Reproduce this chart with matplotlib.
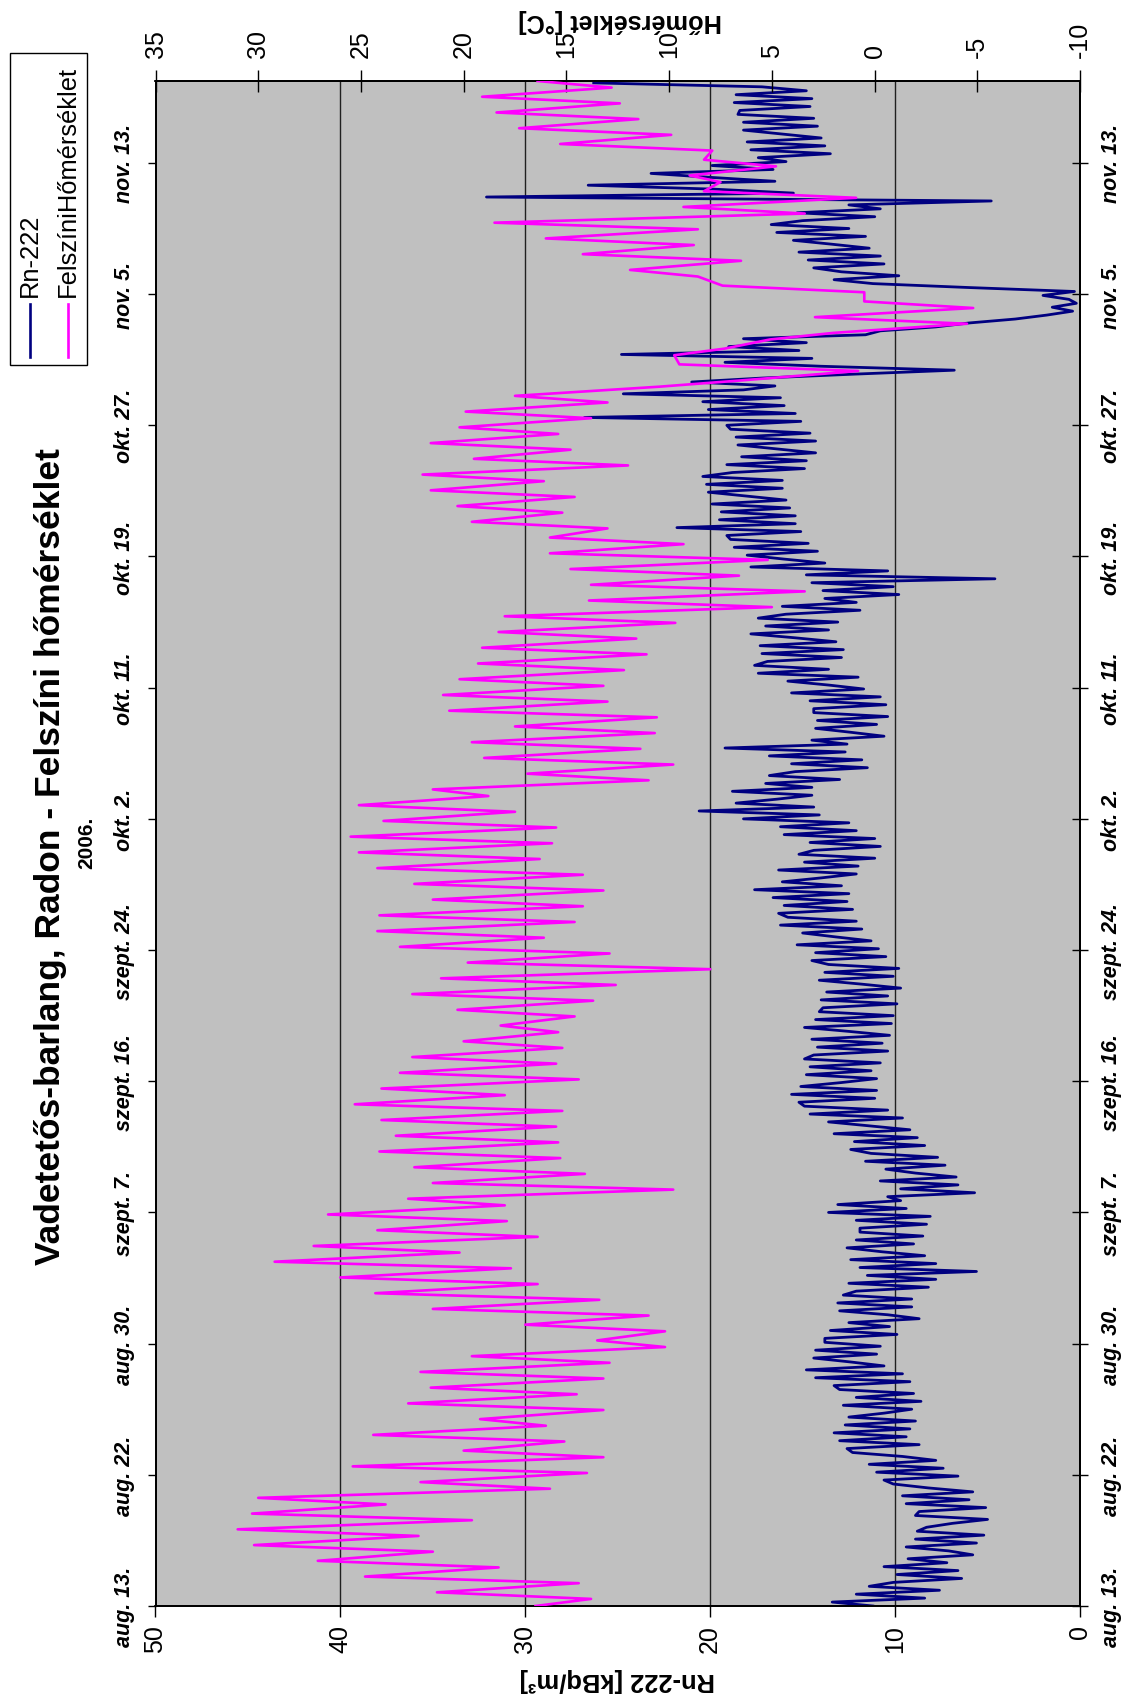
import matplotlib
matplotlib.use('Agg')
import matplotlib.pyplot as plt
from matplotlib.patches import Rectangle
from matplotlib.lines import Line2D
import numpy as np

plt.rcParams['font.family'] = ['Liberation Sans', 'DejaVu Sans']

W, H, DPI = 1127, 1699, 100

# ---------------- data ----------------
title = "Vadetetős-barlang, Radon - Felszíni hőmérséklet"
subtitle = "2006."
date_labels = ["aug. 13.", "aug. 22.", "aug. 30.", "szept. 7.", "szept. 16.",
               "szept. 24.", "okt. 2.", "okt. 11.", "okt. 19.", "okt. 27.",
               "nov. 5.", "nov. 13."]
date_step = 25.0 / 3.0          # days between date ticks
t_end = 96.87                   # days shown
rn_ticks = [0, 10, 20, 30, 40, 50]
temp_ticks = [35, 30, 25, 20, 15, 10, 5, 0, -5, -10]

# surface temperature: daily minimum (early morning) and maximum (afternoon), degC
temp_start = 16.5
temp_min = [13.8, 14.4, 18.3, 21.5, 22.2, 19.6, 23.8, 15.8, 14.0, 13.2,
            15.1, 16.0, 13.2, 14.5, 13.2, 12.9, 10.2, 10.2, 11.0, 13.4,
            16.4, 17.7, 20.2, 16.4, 17.9, 18.0, 9.8, 14.1, 15.3, 15.4,
            15.5, 15.2, 18.0, 14.4, 15.5, 15.2, 15.4, 14.6, 13.7, 12.6,
            8.0, 12.9, 16.1, 14.6, 14.2, 13.2, 14.2, 16.3, 15.7, 15.5,
            17.5, 18.8, 11.0, 9.8, 11.4, 10.7, 10.6, 13.0, 13.2, 12.2,
            11.1, 11.6, 9.7, 5.0, 3.4, 6.6, 5.2, 9.3, 13.0, 15.2,
            14.6, 16.1, 12.0, 14.8, 15.4, 13.8, 13.0, 10.5, 0.8, 9.75,
            5.1, -4.5, -4.8, 0.5, 8.6, 6.5, 8.8, 8.6, 3.4, 0.9,
            7.5, 4.8, 7.9, 9.9, 11.5, 12.4, 12.8]
temp_max = [21.3, 24.8, 27.1, 30.2, 31.0, 30.3, 30.0, 22.1, 25.4, 20.0,
            24.4, 19.2, 22.7, 21.6, 22.1, 19.6, 13.5, 17.0, 21.5, 24.3,
            26.0, 29.2, 27.3, 24.2, 26.6, 22.7, 21.5, 22.4, 24.1, 23.3,
            24.0, 25.3, 24.0, 23.1, 22.5, 20.0, 18.2, 20.3, 22.5, 21.1,
            19.8, 23.1, 24.2, 24.1, 21.5, 22.4, 24.2, 25.1, 25.5, 23.9,
            25.1, 21.5, 16.9, 19.0, 19.6, 17.5, 20.7, 21.0, 20.2, 19.3,
            19.1, 18.3, 18.0, 13.9, 13.8, 14.8, 15.8, 15.8, 19.6, 20.3,
            21.6, 22.0, 19.5, 21.6, 20.2, 19.9, 17.5, 6.3, 9.5, 7.3,
            2.0, 2.9, 0.5, 7.4, 11.9, 14.2, 16.0, 18.5, 9.3, 8.3,
            9.0, 8.3, 15.3, 17.3, 18.4, 19.1, 16.4]

# Rn-222 concentration, kBq/m3, four readings per day
rn_values = [
    11.2, 13.4, 8.4, 12.1,   7.6, 11.4, 10.1, 6.4,
    9.9, 6.6, 10.6, 7.2,     9.3, 5.8, 7.1, 9.4,
    5.6, 8.9, 5.2, 8.8,      8.3, 6.9, 5.0, 8.9,
    8.7, 5.1, 9.4, 6.0,      9.6, 5.8, 8.2, 10.1,
    10.6, 6.6, 11.0, 7.4,    11.4, 7.8, 9.6, 12.3,
    12.6, 8.7, 13.0, 9.4,    13.3, 9.2, 12.7, 8.9,
    12.5, 10.6, 9.1, 12.8,   8.6, 12.1, 9.0, 13.0,
    13.3, 9.2, 14.3, 9.6,    14.8, 10.6, 12.4, 14.4,
    11.0, 14.3, 10.8, 13.8,  13.8, 9.9, 13.5, 10.3,
    12.5, 8.7, 10.4, 13.0,   9.1, 13.1, 9.1, 12.8,
    12.1, 8.2, 12.5, 7.8,    11.5, 5.6, 11.9, 7.8,
    12.4, 8.4, 10.7, 12.6,   9.0, 12.1, 8.5, 11.9,
    11.9, 8.3, 12.1, 8.1,    13.6, 9.4, 13.1, 9.7,
    10.4, 5.7, 9.7, 6.6,     10.8, 6.7, 8.9, 10.5,
    7.3, 11.6, 7.7, 11.3,    12.4, 8.4, 12.2, 8.8,
    13.3, 9.2, 11.4, 13.6,   9.6, 14.6, 10.4, 14.9,
    15.2, 11.1, 15.6, 11.0,  15.1, 12.9, 11.0, 14.8,
    11.3, 14.6, 10.8, 14.9,  14.4, 10.4, 14.2, 10.7,
    14.5, 10.3, 12.5, 14.9,  10.2, 14.3, 10.1, 14.1,
    13.9, 9.9, 14.0, 10.4,   13.7, 9.7, 11.8, 14.1,
    10.1, 13.8, 9.8, 13.6,   14.5, 10.5, 14.3, 10.9,
    15.3, 11.3, 13.2, 15.0,  11.8, 16.2, 12.1, 15.8,
    16.3, 12.3, 16.0, 12.6,  16.6, 12.5, 17.6, 12.9,
    16.1, 14.0, 12.1, 16.3,  12.0, 14.9, 11.1, 15.2,
    14.4, 10.8, 14.6, 11.1,  16.0, 12.1, 16.2, 12.5,
    18.2, 14.1, 20.6, 14.4,  18.6, 16.4, 14.5, 18.8,
    14.5, 17.0, 13.0, 16.8,  15.4, 11.5, 15.6, 11.8,
    16.8, 12.7, 19.2, 12.6,  14.5, 10.6, 12.4, 14.3,
    11.0, 14.2, 10.4, 14.4,  14.4, 10.5, 14.6, 10.8,
    15.6, 11.7, 13.6, 15.8,  12.0, 17.4, 13.6, 17.6,
    16.9, 12.9, 17.2, 12.8,  17.3, 13.2, 15.4, 17.8,
    13.6, 17.0, 13.1, 17.4,  15.9, 11.9, 16.1, 12.1,
    13.8, 9.8, 13.9, 10.1,   14.5, 4.6, 14.8, 10.4,
    17.8, 13.8, 16.0, 18.0,  14.2, 18.7, 14.7, 18.9,
    19.1, 15.1, 21.8, 15.4,  19.5, 15.4, 19.4, 15.7,
    19.9, 15.9, 18.0, 20.1,  16.1, 20.2, 16.1, 20.4,
    18.8, 14.9, 19.1, 14.8,  18.3, 14.3, 16.4, 18.5,
    14.3, 18.6, 14.6, 18.9,  19.1, 15.1, 26.8, 15.4,
    20.1, 16.0, 20.4, 16.2,  24.7, 18.2, 16.5, 21.0,
    17.2, 12.2, 6.8, 14.0,   19.2, 14.5, 24.8, 15.2,
    19.0, 14.8, 18.2, 11.6,  10.8, 7.8, 6.0, 3.5,
    1.8, 0.4, 1.5, 0.2,      0.6, 2.0, 0.3, 6.0,
    11.2, 13.3, 9.8, 12.9,   14.4, 10.6, 14.7, 10.8,
    15.2, 11.4, 13.4, 15.5,  11.6, 16.4, 12.5, 16.7,
    15.0, 11.1, 15.3, 10.8,  12.5, 4.8, 32.1, 15.5,
    19.8, 26.6, 16.5, 20.0,  23.2, 16.6, 19.9, 15.9,
    17.4, 13.5, 17.8, 13.8,  18.0, 14.0, 16.1, 18.2,
    14.2, 18.2, 14.4, 18.5,  18.4, 14.6, 18.7, 14.5,
    18.6, 14.8, 17.2, 26.3,
]

# ---------------- series in time ----------------
t_temp = [0.0]
temp = [temp_start]
for k, (lo, hi) in enumerate(zip(temp_min, temp_max)):
    t_temp += [k + 0.45, k + 0.87]
    temp += [lo, hi]
t_rn = np.arange(len(rn_values)) * 0.25

# ---------------- figure ----------------
fig = plt.figure(figsize=(W / DPI, H / DPI), dpi=DPI)
fig.patch.set_facecolor('white')

L, R, T, B = 155.5, 1080.0, 82.0, 1607.0
ax = fig.add_axes([L / W, 1 - B / H, (R - L) / W, (B - T) / H])
ax.set_facecolor('#C0C0C0')
ax.set_xlim(50, 0)
ax.set_ylim(0, t_end)
ax.set_axisbelow(True)
ax.xaxis.grid(True, color='#202020', lw=1.0)
ax.plot(rn_values, t_rn, color='#000080', lw=2.0, zorder=3)

ax.set_xticks(rn_ticks)
ax.set_xticklabels([str(v) for v in rn_ticks], rotation=90, fontsize=18)
ax.tick_params(axis='x', direction='out', length=8, width=1, pad=5)

ticks = [k * date_step for k in range(len(date_labels))]
ax.set_yticks(ticks)
ax.set_yticklabels(date_labels, rotation=90, va='center', fontsize=15.5,
                   fontweight='bold', fontstyle='italic')
ax.tick_params(axis='y', direction='out', length=6, width=1, pad=9)

sec = ax.secondary_yaxis('right')
sec.set_ticks(ticks, labels=date_labels)
sec.tick_params(axis='y', direction='inout', length=12, width=1, pad=9)
for lab in sec.get_yticklabels():
    lab.set_rotation(90)
    lab.set_va('center')
    lab.set_fontsize(15.5)
    lab.set_fontweight('bold')
    lab.set_fontstyle('italic')

ax2 = ax.twiny()
ax2.set_xlim(35, -10)
ax2.plot(temp, t_temp, color='#FF00FF', lw=1.9, zorder=3)
ax2.set_xticks(temp_ticks)
ax2.set_xticklabels([str(v) for v in temp_ticks], rotation=90, fontsize=18)
ax2.tick_params(axis='x', direction='inout', length=16, width=1, pad=9)

for a in (ax, ax2):
    for s in a.spines.values():
        s.set_linewidth(1.3)
        s.set_color('black')
sec.spines['right'].set_linewidth(1.3)

def fxy(x, y):
    return x / W, 1 - y / H

# titles
fig.text(*fxy(51, 857), title, rotation=90, ha='center', va='center',
         fontsize=25.5, fontweight='bold')
fig.text(*fxy(86.5, 843), subtitle, rotation=90, ha='center', va='center',
         fontsize=15, fontweight='bold')

# axis labels (upside down)
fig.text(*fxy(617.7, 1680), "Rn-222 [kBq/m³]", rotation=180, ha='center',
         va='center', fontsize=18.4, fontweight='bold')
fig.text(*fxy(620, 21), "Hőmérséklet [°C]", rotation=180, ha='center',
         va='center', fontsize=18.2, fontweight='bold')

# legend
x0, y0 = fxy(10, 366)
x1, y1 = fxy(87, 54)
fig.add_artist(Rectangle((x0, y0), x1 - x0, y1 - y0, transform=fig.transFigure,
                         facecolor='white', edgecolor='black', lw=1.0))
for xc, col, lab in [(30, '#000080', 'Rn-222'), (68, '#FF00FF', 'FelszíniHőmérséklet')]:
    xa, ya = fxy(xc, 358)
    _, yb = fxy(xc, 305)
    fig.add_artist(Line2D([xa, xa], [ya, yb], transform=fig.transFigure,
                          color=col, lw=1.9))
    fig.text(*fxy(xc, 297), lab, rotation=90, ha='center', va='bottom',
             fontsize=18.4)

fig.savefig('out.png', dpi=DPI)
